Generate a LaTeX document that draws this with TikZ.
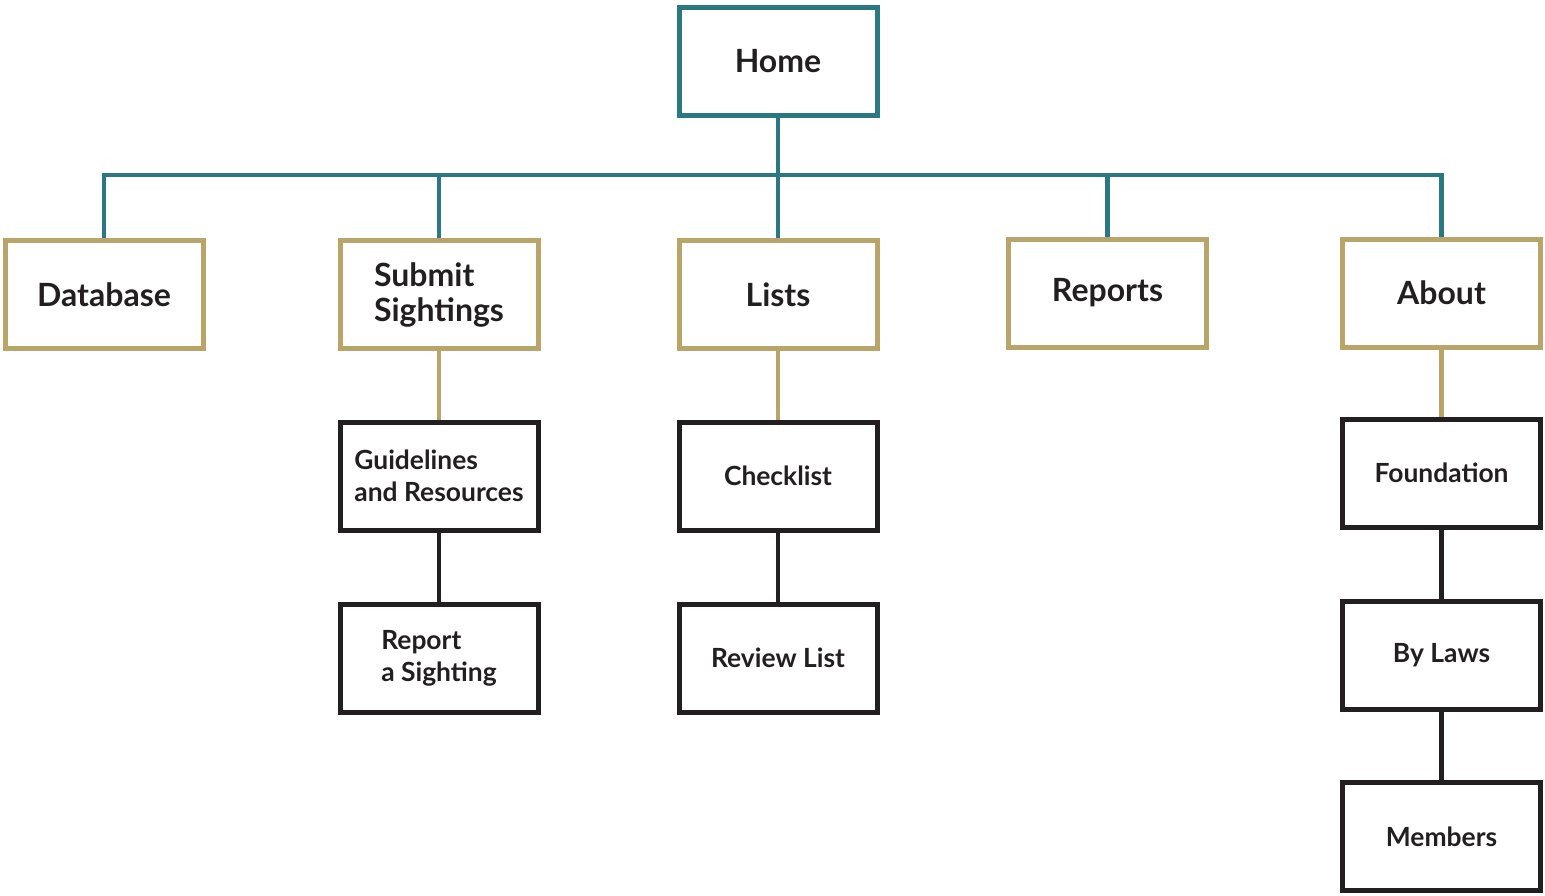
\documentclass[tikz,border=0pt]{standalone}
\usepackage{fontspec}
\setmainfont{Lato}
\definecolor{teal}{HTML}{2B7782}
\definecolor{tan}{HTML}{B9A56A}
\definecolor{ink}{HTML}{231F20}
\begin{document}
\begin{tikzpicture}
            [x=0.5pt, y=-0.5pt, line width=2.4pt,
            top/.style={draw=teal, line width=2.5pt, minimum width=99pt, minimum height=54pt, inner sep=0pt, text=ink, font=\bfseries\fontsize{16}{19}\selectfont},
            section/.style={draw=tan, line width=2.5pt, minimum width=99pt, minimum height=54pt, inner sep=0pt, align=left, text=ink, font=\bfseries\fontsize{16}{17.5}\selectfont},
            page/.style={draw=ink, line width=2.5pt, minimum width=99pt, minimum height=54pt, inner sep=0pt, align=left, text=ink, font=\bfseries\fontsize{13.2}{16}\selectfont},
            homeedge/.style={teal},
            sectionedge/.style={tan},
            pageedge/.style={ink}]

            \useasboundingbox (0,0) rectangle (1545,895);

            \node[top] (home) at (778,61) {Home};

            \node[section] (database) at (104,294.5) {Database};
            \node[section] (submit) at (439,294.5) {Submit\\Sightings};
            \node[section] (lists) at (778,294.5) {Lists};
            \node[section] (reports) at (1107.5,293) {Reports};
            \node[section] (about) at (1441.5,293) {About};

            \node[page] (guidelines) at (439,476) {Guidelines\\and Resources};
            \node[page] (report) at (439,658) {Report\\a Sighting};
            \node[page] (checklist) at (778,476) {Checklist};
            \node[page] (review) at (778,658) {Review List};
            \node[page] (foundation) at (1441.5,473) {Foundation};
            \node[page] (bylaws) at (1441.5,655) {By Laws};
            \node[page] (members) at (1441.5,836.5) {Members};

            % bus under Home
            \coordinate (bus) at (778,175);
            \draw[homeedge] (home) -- (bus);
            \foreach \s in {database,submit,lists,reports,about}
                \draw[homeedge] (bus) -| (\s.north);

            % section to first page
            \draw[sectionedge] (submit) -- (guidelines);
            \draw[sectionedge] (lists) -- (checklist);
            \draw[sectionedge] (about) -- (foundation);

            % page to page
            \draw[pageedge] (guidelines) -- (report);
            \draw[pageedge] (checklist) -- (review);
            \draw[pageedge] (foundation) -- (bylaws);
            \draw[pageedge] (bylaws) -- (members);

        \end{tikzpicture}
\end{document}
